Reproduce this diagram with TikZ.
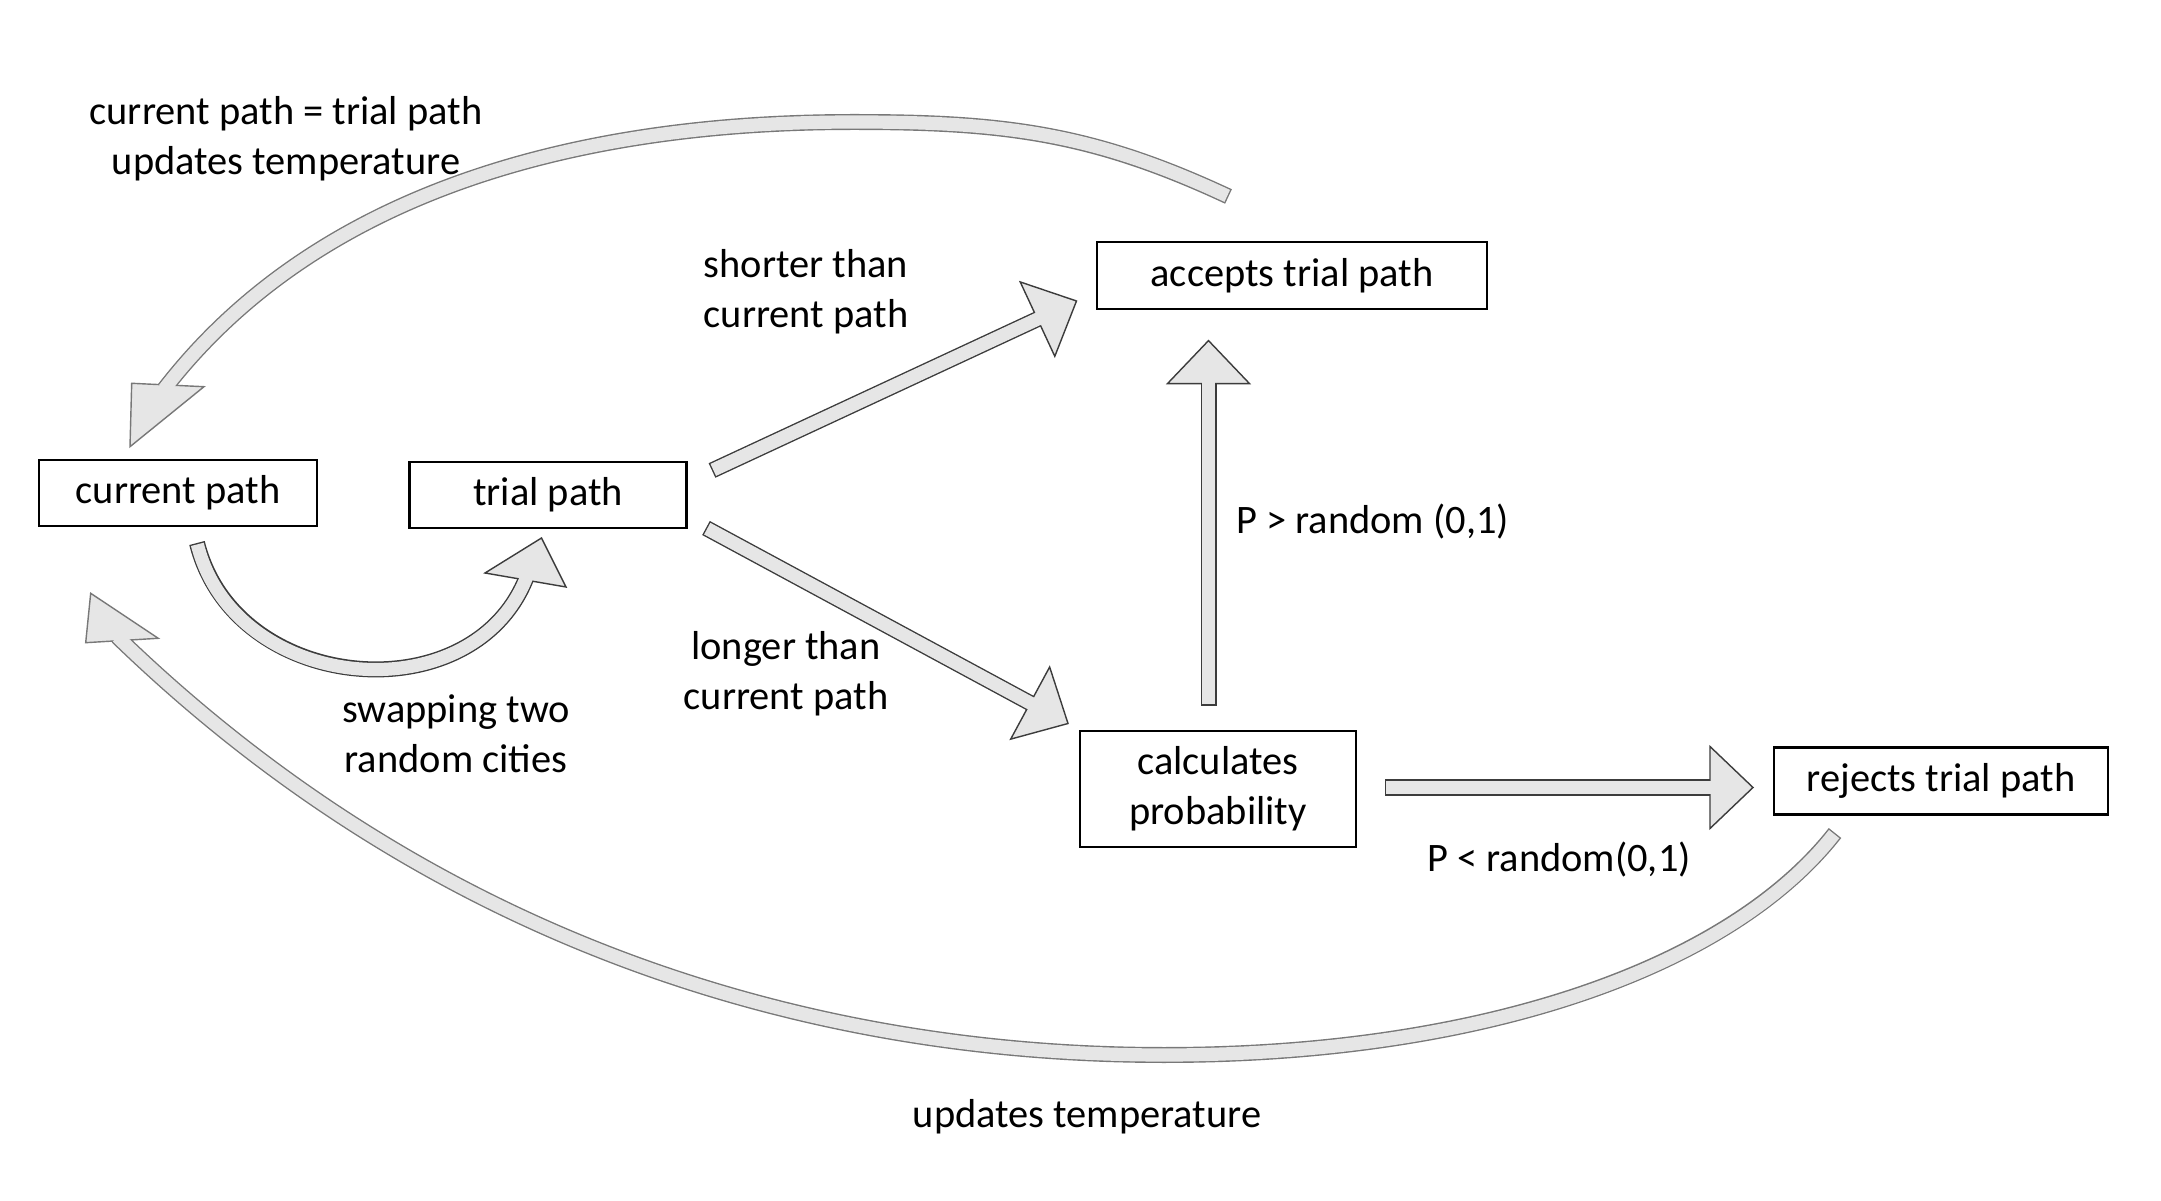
\documentclass[tikz,border=0pt]{standalone}
\usepackage{fontspec}
\setmainfont{Carlito}
\usetikzlibrary{calc,positioning}

\definecolor{arrowfill}{HTML}{E6E6E6}
\definecolor{darkline}{HTML}{3C3C3C}
\definecolor{lightline}{HTML}{787878}

\tikzset{
  stepbox/.style={draw, line width=0.6pt, inner sep=0pt, align=center},
  note/.style={inner sep=0pt, align=center},
  shaftout/.style={line width=0.16cm},
  shaftin/.style={line width=0.132cm, draw=arrowfill},
  headshape/.style={fill=arrowfill, line width=0.4pt, line join=miter}
}

% straight block arrow: [outline] tail, tip
\newcommand{\blockarrow}[3][darkline]{%
  \coordinate (hb) at ($(#3)!0.43cm!(#2)$);
  \coordinate (he) at ($(#3)!0.38cm!(#2)$);
  \draw[shaftout, draw=#1] (#2) -- (he);
  \draw[headshape, draw=#1] (#3) -- ($(hb)!0.41cm!90:(#3)$) -- ($(hb)!0.41cm!-90:(#3)$) -- cycle;
  \draw[shaftin, shorten <=0.4pt] (#2) -- (he);
}

% bent block arrow: outline, shaft path, wing, tip, wing
\newcommand{\bentarrow}[5]{%
  \draw[shaftout, draw=#1] #2;
  \draw[headshape, draw=#1] (#3) -- (#4) -- (#5) -- cycle;
  \draw[shaftin, shorten <=0.4pt] #2;
}

\begin{document}
\begin{tikzpicture}[font=\fontsize{11.5}{14.2}\selectfont]
    \useasboundingbox (0,0) rectangle (21.61,12);

    % Boxes
    \node[stepbox, minimum width=2.78cm, minimum height=0.66cm] (current) at (1.78, 7.07) {current path};
    \node[stepbox, minimum width=2.77cm, minimum height=0.66cm] (trial) at (5.48, 7.05) {trial path};
    \node[stepbox, minimum width=3.90cm, minimum height=0.67cm] (accept) at (12.92, 9.245) {accepts trial path};
    \node[stepbox, minimum width=2.76cm, minimum height=1.16cm] (calc) at (12.18, 4.11) {calculates\\probability};
    \node[stepbox, minimum width=3.34cm, minimum height=0.67cm] (reject) at (19.41, 4.19) {rejects trial path};

    % Arrow ends
    \coordinate (shortA) at (7.12, 7.295);
    \coordinate (shortB) at (10.765, 8.99);
    \coordinate (longA) at (7.06, 6.72);
    \coordinate (longB) at (10.68, 4.765);
    \coordinate (upA) at (12.085, 4.943);
    \coordinate (upB) at (12.085, 8.594);
    \coordinate (rightA) at (13.85, 4.125);
    \coordinate (rightB) at (17.53, 4.125);

    % Straight arrows
    \blockarrow{shortA}{shortB}
    \blockarrow{longA}{longB}
    \blockarrow{upA}{upB}
    \blockarrow{rightA}{rightB}

    % Swap arrow
    \bentarrow{darkline}{(1.97, 6.57) .. controls (2.35, 5.05) and (4.75, 4.85) .. (5.273, 6.247)}
        {4.85, 6.27}{5.415, 6.62}{5.66, 6.13}

    % Accept loop
    \bentarrow{lightline}{(12.285, 10.035) .. controls (10.925, 10.67) and (10.04, 10.78) .. (8.54, 10.78)
        .. controls (6.6, 10.78) and (3.45, 10.45) .. (1.642, 8.108)}
        {1.317, 8.167}{1.30, 7.533}{2.04, 8.133}

    % Reject loop
    \bentarrow{lightline}{(18.35, 3.67) .. controls (17.30, 2.33) and (14.84, 1.45) .. (11.64, 1.45)
        .. controls (8.34, 1.45) and (4.48, 2.43) .. (1.174, 5.632)}
        {0.857, 5.573}{0.907, 6.067}{1.583, 5.617}

    % Labels
    \node[note] (topnote) at (2.86, 10.61) {current path = trial path\\updates temperature};
    \node[note] (shortnote) at (8.06, 9.08) {shorter than\\current path};
    \node[note] (longnote) at (7.86, 5.26) {longer than\\current path};
    \node[note] (swapnote) at (4.56, 4.66) {swapping two\\random cities};
    \node[note, anchor=west] (pgreater) at (12.356, 6.783) {P > random (0,1)};
    \node[note] (pless) at (15.59, 3.40) {P < random(0,1)};
    \node[note] (bottomnote) at (10.87, 0.83) {updates temperature};
\end{tikzpicture}
\end{document}
